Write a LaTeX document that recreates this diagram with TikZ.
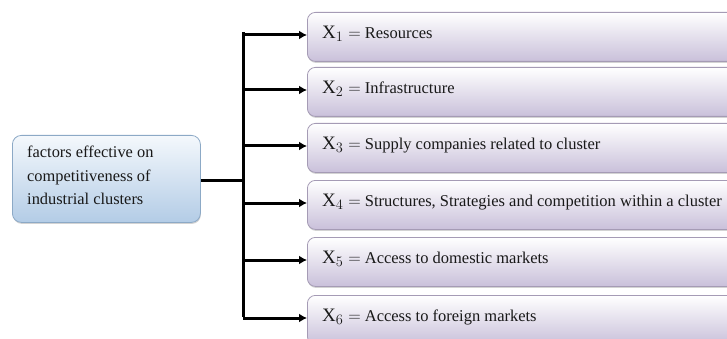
\documentclass[tikz,border=0pt]{standalone}
\usepackage{fontspec}
\setmainfont{Liberation Serif}
\usetikzlibrary{arrows.meta,shadows}
\begin{document}
\begin{tikzpicture}[x=1pt,y=-1pt,
  rbox/.style={draw=rboxline, line width=0.8pt, rounded corners=8pt, top color=white, bottom color=rboxfill,
    minimum width=440pt, minimum height=49pt, anchor=north west, inner sep=0pt,
    drop shadow={shadow xshift=0.5pt, shadow yshift=-1.5pt, opacity=0.35}},
  lbox/.style={draw=lboxline, line width=0.8pt, rounded corners=9pt, top color=lboxtop, bottom color=lboxfill,
    minimum width=188pt, minimum height=87pt, anchor=north west, inner sep=0pt,
    drop shadow={shadow xshift=0.5pt, shadow yshift=-1.5pt, opacity=0.35}},
  rtext/.style={anchor=west, inner sep=0pt, font=\fontsize{16.5}{18}\selectfont, text=black!90},
  ltext/.style={anchor=north west, inner sep=0pt, align=left, font=\fontsize{16.4}{23.5}\selectfont, text=black!90},
  conn/.style={line width=3pt, black},
  arr/.style={conn, -{Latex[length=8pt,width=9pt]}}
]
\definecolor{rboxfill}{HTML}{C9C0DA}
\definecolor{rboxline}{HTML}{A59BB5}
\definecolor{lboxtop}{HTML}{F4F8FC}
\definecolor{lboxfill}{HTML}{B3CCE6}
\definecolor{lboxline}{HTML}{8CA9C6}
\useasboundingbox (0,0) rectangle (727,339);
\clip (0,0) rectangle (727,339);

\newcommand{\xlab}[2]{{\fontsize{19}{20}\selectfont $\mathrm{X}_{#1} =$} #2}

\node[lbox] (src) at (12,135) {};
\node[ltext] (st) at (27,146) {factors effective on\\competitiveness of\\industrial clusters};

\foreach \i/\t/\lab in {1/12/Resources,2/67/Infrastructure,3/123/Supply companies related to cluster,
  4/180/{Structures, Strategies and competition within a cluster},5/237/Access to domestic markets,6/295/Access to foreign markets}{
  \node[rbox] (b\i) at (307,\t) {};
  \node[rtext] (t\i) at ([xshift=15pt,yshift=-22pt]b\i.north west) {\xlab{\i}{\lab}};
  \coordinate (e\i) at ([yshift=-1pt]b\i.west |- t\i.west);
}

\coordinate (j) at (243,180);
\coordinate (top) at (243,34);
\coordinate (bot) at (243,315);
\draw[conn] (src.east |- j) -- (j);
\draw[conn, line cap=butt] ([yshift=1.5pt]top) -- ([yshift=-1.5pt]bot);
\foreach \i in {1,...,6}{
  \draw[arr] (j |- e\i) -- (e\i);
}
\end{tikzpicture}
\end{document}
